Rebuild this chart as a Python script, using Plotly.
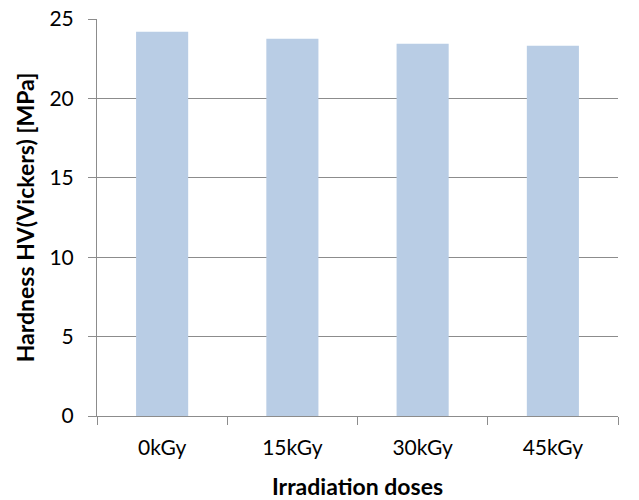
import plotly.graph_objects as go

# Vickers hardness by irradiation dose
doses = ["0kGy", "15kGy", "30kGy", "45kGy"]
hardness = [24.2, 23.76, 23.44, 23.31]

y_ticks = [0, 5, 10, 15, 20, 25]

axis_grey = "#8c8c8c"
font_family = "Lato, 'Open Sans', sans-serif"

fig = go.Figure(
    go.Bar(
        x=doses,
        y=hardness,
        marker=dict(color="#B9CDE5", line=dict(width=0)),
        width=0.4,
    )
)

fig.update_layout(
    width=639,
    height=500,
    margin=dict(l=97, r=21, t=19, b=84),
    plot_bgcolor="white",
    paper_bgcolor="white",
    showlegend=False,
    font=dict(family=font_family, size=21, color="#000000"),
)

fig.update_xaxes(
    type="category",
    automargin=False,
    showline=True,
    linecolor=axis_grey,
    linewidth=1,
    ticks="outside",
    tickson="boundaries",
    ticklen=8,
    tickcolor=axis_grey,
    showgrid=False,
    tickfont=dict(size=21),
    ticklabelstandoff=13,
    title=dict(text="<b>Irradiation doses</b>", font=dict(size=23), standoff=20),
)

fig.update_yaxes(
    range=[0, 25],
    automargin=False,
    tickvals=y_ticks,
    showline=True,
    linecolor=axis_grey,
    linewidth=1,
    ticks="outside",
    tickcolor=axis_grey,
    ticklen=8,
    showgrid=True,
    gridcolor=axis_grey,
    gridwidth=1,
    zeroline=False,
    tickfont=dict(size=21),
    ticklabelstandoff=10,
    title=dict(text="<b>Hardness HV(Vickers) [MPa]</b>", font=dict(size=23), standoff=8),
)

fig.write_html("out.html")
